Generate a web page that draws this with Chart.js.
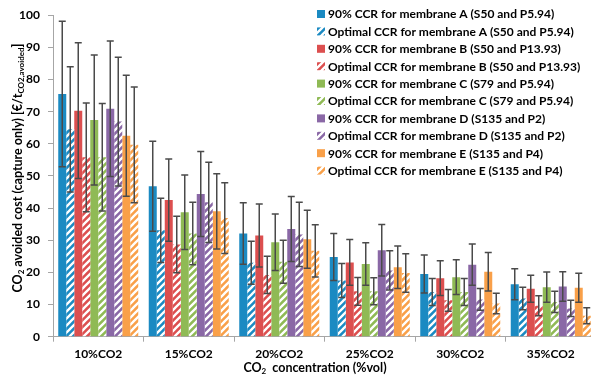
<!DOCTYPE html>
<html>
<head>
<meta charset="utf-8">
<script src="https://cdn.jsdelivr.net/npm/chart.js@4"></script>
<style>
  html, body { margin: 0; padding: 0; background: #fff; overflow: hidden; }
  #wrap { width: 600px; height: 379px; }
</style>
</head>
<body>
<div id="wrap"><canvas id="myChart" width="600" height="379"></canvas></div>
<script>
const categories = ['10%CO2', '15%CO2', '20%CO2', '25%CO2', '30%CO2', '35%CO2'];
const seriesLabels = [
  '90% CCR for membrane A (S50 and P5.94)',
  'Optimal CCR for membrane A (S50 and P5.94)',
  '90% CCR for membrane B (S50 and P13.93)',
  'Optimal CCR for membrane B (S50 and P13.93)',
  '90% CCR for membrane C (S79 and P5.94)',
  'Optimal CCR for membrane C (S79 and P5.94)',
  '90% CCR for membrane D (S135 and P2)',
  'Optimal CCR for membrane D (S135 and P2)',
  '90% CCR for membrane E (S135 and P4)',
  'Optimal CCR for membrane E (S135 and P4)'
];

// bar heights
const a90 = [75.5, 46.8, 32.1, 24.8, 19.5, 16.3];
const aOpt = [64.5, 33.1, 23.0, 17.5, 13.9, 11.9];
const b90 = [70.3, 42.5, 31.5, 23.1, 18.2, 14.9];
const bOpt = [55.8, 28.7, 19.2, 14.1, 11.3, 9.6];
const c90 = [67.4, 38.7, 29.4, 22.6, 18.5, 15.4];
const cOpt = [55.8, 32.1, 23.3, 14.1, 13.9, 10.8];
const d90 = [70.9, 44.4, 33.5, 26.9, 22.4, 15.6];
const dOpt = [66.9, 41.8, 31.8, 20.6, 11.6, 8.8];
const e90 = [62.5, 39.0, 30.3, 21.6, 20.2, 15.2];
const eOpt = [59.7, 36.9, 26.7, 19.8, 10.3, 6.5];

// +/- error
const a90Err = [22.6, 14.0, 9.6, 7.3, 5.9, 4.8];
const aOptErr = [19.5, 10.0, 6.7, 5.3, 4.2, 3.5];
const b90Err = [21.1, 12.8, 9.8, 7.1, 5.4, 4.2];
const bOptErr = [16.9, 8.8, 5.8, 4.3, 3.4, 3.1];
const c90Err = [20.2, 11.6, 8.8, 6.6, 5.4, 4.7];
const cOptErr = [16.7, 9.7, 6.7, 4.2, 4.2, 3.3];
const d90Err = [21.1, 13.2, 10.1, 8.0, 6.4, 4.6];
const dOptErr = [20.0, 12.5, 10.0, 6.1, 3.4, 2.5];
const e90Err = [18.8, 11.7, 9.0, 6.6, 6.0, 4.5];
const eOptErr = [18.0, 11.0, 8.1, 6.0, 3.2, 2.5];

const values = [a90, aOpt, b90, bOpt, c90, cOpt, d90, dOpt, e90, eOpt];
const errors = [a90Err, aOptErr, b90Err, bOptErr, c90Err, cOptErr, d90Err, dOptErr, e90Err, eOptErr];
const colours = ['#1b8ac2', '#dc4f4f', '#8fba55', '#8a68a6', '#f9a049'];

const FONT = 'Lato, "Open Sans", sans-serif';

function hatch(colour) {
  const s = 7;
  const c = document.createElement('canvas');
  c.width = s; c.height = s;
  const g = c.getContext('2d');
  g.fillStyle = colour;
  g.fillRect(0, 0, s, s);
  g.strokeStyle = '#ffffff';
  g.lineWidth = 2.3;
  g.beginPath();
  g.moveTo(-1, s + 1); g.lineTo(s + 1, -1);
  g.moveTo(-1, 1); g.lineTo(1, -1);
  g.moveTo(s - 1, s + 1); g.lineTo(s + 1, s - 1);
  g.stroke();
  return g.createPattern(c, 'repeat');
}

const datasets = values.map((v, i) => {
  const col = colours[Math.floor(i / 2)];
  return {
    label: seriesLabels[i],
    data: v,
    backgroundColor: i % 2 === 0 ? col : hatch(col),
    borderWidth: 0,
    barPercentage: 1,
    categoryPercentage: 0.884
  };
});

const errorBars = {
  id: 'errorBars',
  afterDatasetsDraw(chart) {
    const { ctx } = chart;
    const y = chart.scales.y;
    ctx.save();
    ctx.strokeStyle = '#4a4a4a';
    ctx.lineWidth = 1.5;
    chart.data.datasets.forEach((ds, i) => {
      chart.getDatasetMeta(i).data.forEach((bar, j) => {
        const v = ds.data[j], e = errors[i][j];
        const top = y.getPixelForValue(v + e);
        const bot = y.getPixelForValue(v - e);
        const x = bar.x;
        ctx.beginPath();
        ctx.moveTo(x, top); ctx.lineTo(x, bot);
        ctx.moveTo(x - 3.5, top); ctx.lineTo(x + 3.5, top);
        ctx.moveTo(x - 3.5, bot); ctx.lineTo(x + 3.5, bot);
        ctx.stroke();
      });
    });
    ctx.restore();
  }
};

// text with subscripts: parts = [[text, isSub], ...]
function richText(ctx, parts, cx, cy, size) {
  const big = 'bold ' + size + 'px ' + FONT;
  const small = 'bold ' + Math.round(size * 0.62) + 'px ' + FONT;
  let w = 0;
  parts.forEach(p => { ctx.font = p[1] ? small : big; w += ctx.measureText(p[0]).width; });
  let x = cx - w / 2;
  ctx.textBaseline = 'middle';
  ctx.textAlign = 'left';
  parts.forEach(p => {
    ctx.font = p[1] ? small : big;
    ctx.fillText(p[0], x, p[1] ? cy + size * 0.3 : cy);
    x += ctx.measureText(p[0]).width;
  });
}

const decorations = {
  id: 'decorations',
  afterDraw(chart) {
    const { ctx } = chart;
    ctx.save();
    ctx.fillStyle = '#000';
    // y title
    ctx.save();
    ctx.translate(18, 168);
    ctx.rotate(-Math.PI / 2);
    richText(ctx, [['CO', false], ['2', true], [' avoided cost (capture only) [€/t', false], ['CO2,avoided', true], [']', false]], 0, 0, 12.5);
    ctx.restore();
    // x title
    richText(ctx, [['CO', false], ['2', true], ['  concentration (%vol)', false]], 315, 368, 12.5);
    // legend
    chart.data.datasets.forEach((ds, i) => {
      const yy = 14 + i * 17.4;
      ctx.fillStyle = ds.backgroundColor;
      ctx.fillRect(317, yy - 4, 8, 8);
      ctx.fillStyle = '#000';
      ctx.font = 'bold 12px ' + FONT;
      ctx.textBaseline = 'middle';
      ctx.textAlign = 'left';
      ctx.fillText(ds.label, 328, yy + 0.5);
    });
    ctx.restore();
  }
};

new Chart(document.getElementById('myChart'), {
  type: 'bar',
  data: { labels: categories, datasets: datasets },
  options: {
    responsive: false,
    animation: false,
    layout: { padding: { top: 11, right: 4, left: 0, bottom: 0 } },
    plugins: { legend: { display: false }, tooltip: { enabled: false } },
    scales: {
      x: {
        afterFit(scale) { scale.height = 42.3; },
        grid: { drawOnChartArea: false, tickLength: 5, color: '#a6a6a6' },
        border: { color: '#a6a6a6' },
        ticks: { color: '#000', font: { family: FONT, size: 12, weight: 'bold' }, padding: 5, maxRotation: 0 }
      },
      y: {
        min: 0, max: 100,
        afterFit(scale) { scale.width = 53; },
        grid: { drawOnChartArea: false, tickLength: 5, color: '#a6a6a6' },
        border: { color: '#a6a6a6' },
        ticks: { stepSize: 10, color: '#000', font: { family: FONT, size: 12, weight: 'bold' }, padding: 8 }
      }
    }
  },
  plugins: [errorBars, decorations]
});
</script>
</body>
</html>
